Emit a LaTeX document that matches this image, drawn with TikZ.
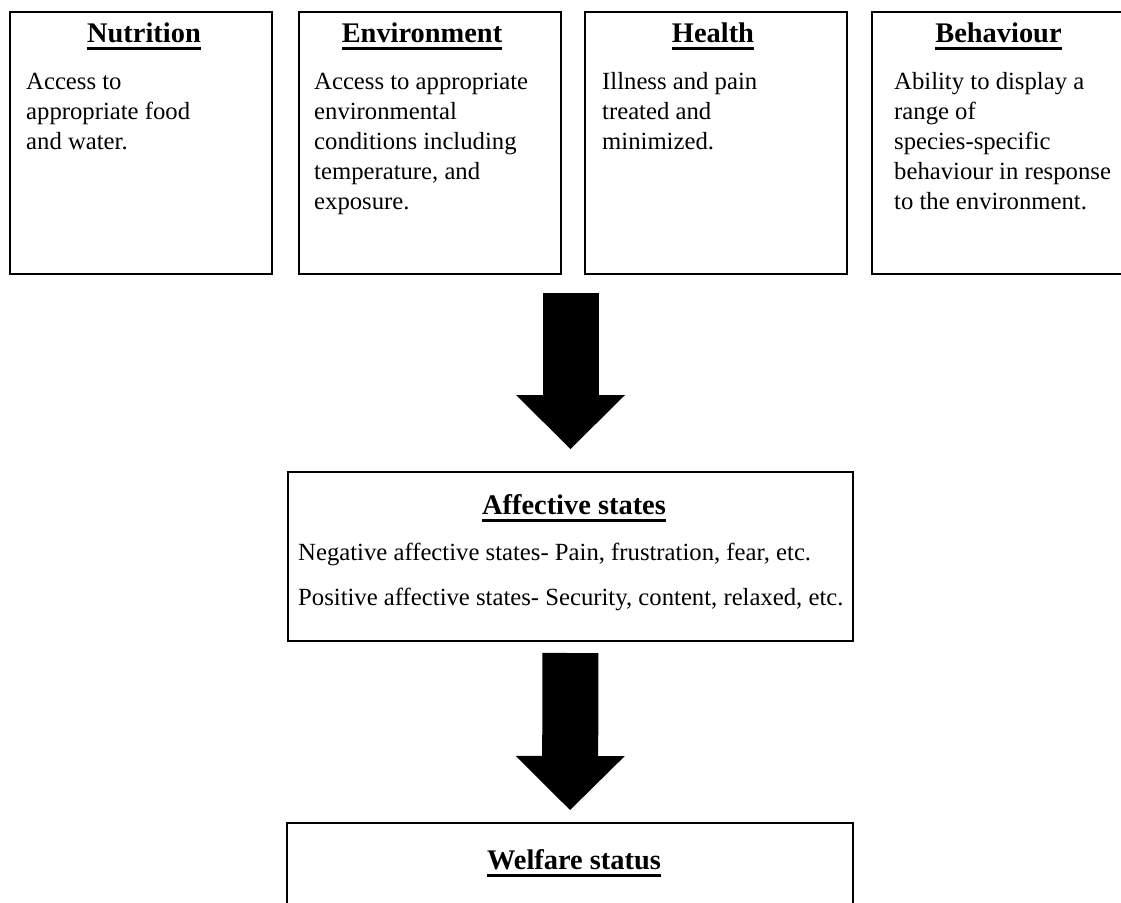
\documentclass[tikz,border=0pt]{standalone}
\usepackage{fontspec}
\setmainfont{Liberation Serif}
\usetikzlibrary{arrows.meta}
\newcommand{\ulttl}[1]{\setbox0=\hbox{#1}\rlap{\rule[-7.6pt]{\wd0}{2.6pt}}\box0}
\tikzset{box/.style={rectangle,draw,line width=2pt,minimum width=262pt,minimum height=262pt,inner sep=0pt},
  ttl/.style={font=\fontsize{28.4}{34}\selectfont\bfseries,anchor=base,inner sep=0pt},
  txt/.style={font=\fontsize{24.7}{30}\selectfont,align=left,anchor=north west,inner sep=0pt},
  bigarrow/.style={line width=56pt,-{Triangle[length=54pt,width=109pt,line width=0pt]}}}

\begin{document}
\begin{tikzpicture}[x=1pt,y=-1pt]
        \useasboundingbox (0,0) rectangle (1121,902);
        \clip (0,0) rectangle (1121,902);

        % top row
        \node[box] (nutr) at (140.5,143) {};
        \node[box] (env) at (429.5,143) {};
        \node[box] (hlth) at (716,143) {};
        \node[box] (behv) at (1003,143) {};

        \node[ttl] (nutrT) at (144,42) {\ulttl{Nutrition}};
        \node[ttl] (envT) at (422,42) {\ulttl{Environment}};
        \node[ttl] (hlthT) at (713,42) {\ulttl{Health}};
        \node[ttl] (behvT) at (998.5,42) {\ulttl{Behaviour}};

        \node[txt] (nutrX) at (26,68) {\strut Access to\\appropriate food\\and water.};
        \node[txt] (envX) at (314,68) {\strut Access to appropriate\\environmental\\conditions including\\temperature, and\\exposure.};
        \node[txt] (hlthX) at (602,68) {\strut Illness and pain\\treated and\\minimized.};
        \node[txt] (behvX) at (894,68) {\strut Ability to display a\\range of\\species-specific\\behaviour in response\\to the environment.};

        % affective states
        \node[box,minimum width=565pt,minimum height=169pt] (aff) at (570.5,556.5) {};
        \node[ttl] (affT) at (574,514) {\ulttl{Affective states}};
        \node[txt] (negX) at (298,539) {\strut Negative affective states- Pain, frustration, fear, etc.};
        \node[txt] (posX) at (298,584) {\strut Positive affective states- Security, content, relaxed, etc.};

        % welfare status
        \node[box,minimum width=566pt,minimum height=169pt] (welf) at (570,907.5) {};
        \node[ttl] (welfT) at (574,869) {\ulttl{Welfare status}};

        \draw[bigarrow,shorten <=18pt,shorten >=22pt] (aff.north |- env.south) -- (aff.north);
        \draw[bigarrow,shorten <=11pt,shorten >=12pt] (aff.south) -- (welf.north);
    \end{tikzpicture}
\end{document}
